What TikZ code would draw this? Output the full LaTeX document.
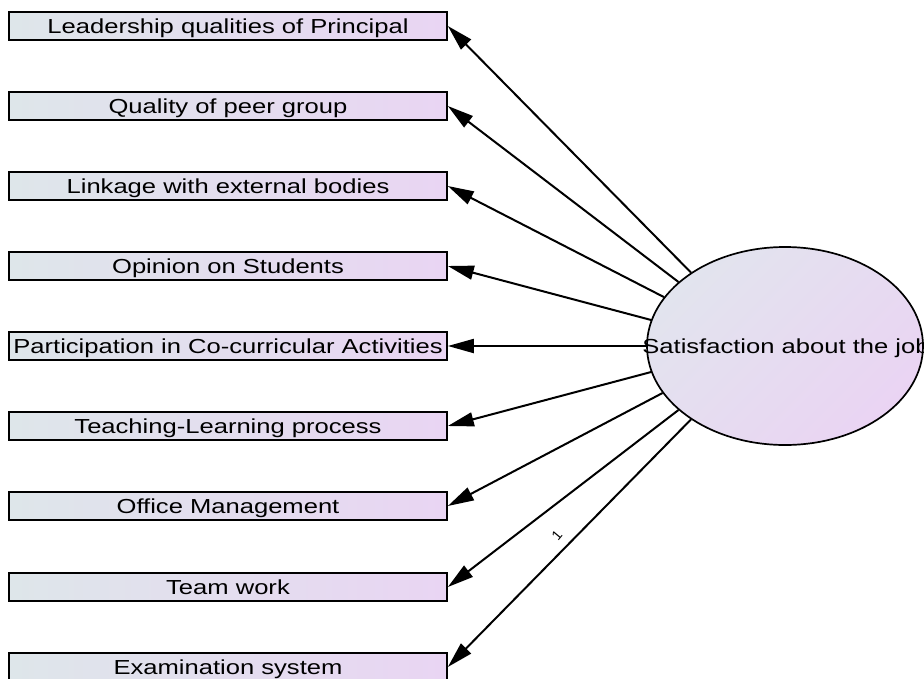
\documentclass[tikz,border=0pt]{standalone}
\usepackage{graphicx}
\usepackage{fontspec}
\setmainfont{Liberation Sans}
\usetikzlibrary{arrows.meta,shapes.geometric}

\definecolor{boxL}{RGB}{222,230,234}
\definecolor{boxR}{RGB}{233,213,243}
\definecolor{ellUL}{RGB}{226,228,238}
\definecolor{ellLR}{RGB}{234,212,243}

% labels are set a little wider than the font's natural width
\newcommand{\stretchtxt}[1]{\scalebox{1.26}[1]{#1}}

\begin{document}
\begin{tikzpicture}[x=1pt,y=-1pt,
  varbox/.style={rectangle, draw=black, line width=1.7pt,
    minimum width=438pt, minimum height=28pt, inner sep=0pt,
    text height=14.5pt, text depth=0pt,
    left color=boxL, right color=boxR, text=black,
    font=\fontsize{20.3}{22}\selectfont},
  regpath/.style={line width=2pt, draw=black,
    -{Triangle[length=26pt,width=14pt]}}
]
\useasboundingbox (0,0) rectangle (924,678);
\clip (0,0) rectangle (924,678);

% observed variables
\node[varbox] (b1) at (228,26)  {\stretchtxt{Leadership qualities of Principal}};
\node[varbox] (b2) at (228,106) {\stretchtxt{Quality of peer group}};
\node[varbox] (b3) at (228,186) {\stretchtxt{Linkage with external bodies}};
\node[varbox] (b4) at (228,266) {\stretchtxt{Opinion on Students}};
\node[varbox] (b5) at (228,346) {\stretchtxt{Participation in Co-curricular Activities}};
\node[varbox] (b6) at (228,426) {\stretchtxt{Teaching-Learning process}};
\node[varbox] (b7) at (228,506) {\stretchtxt{Office Management}};
\node[varbox] (b8) at (228,587) {\stretchtxt{Team work}};
\node[varbox] (b9) at (228,667) {\stretchtxt{Examination system}};

% latent variable
\node[ellipse, draw=black, line width=1.7pt, minimum width=276pt,
      minimum height=198pt, inner sep=0pt,
      top color=ellUL, bottom color=ellLR, shading angle=45] (sat) at (785,346) {};
\node[font=\fontsize{20.3}{22}\selectfont, text=black, inner sep=0pt,
      text height=14.5pt, text depth=0pt] (satlbl) at (786,346)
      {\stretchtxt{Satisfaction about the job}};

% regression paths
\draw[regpath] (sat.142)   -- (b1.east);
\draw[regpath] (sat.149)   -- (b2.east);
\draw[regpath] (sat.158.5) -- (b3.east);
\draw[regpath] (sat.169)   -- (b4.east);
\draw[regpath] (sat.180)   -- (b5.east);
\draw[regpath] (sat.191)   -- (b6.east);
\draw[regpath] (sat.201.5) -- (b7.east);
\draw[regpath] (sat.211)   -- (b8.east);
\draw[regpath] (sat.218)   -- (b9.east);

% fixed loading
\node[rotate=50, font=\fontsize{14}{14}\selectfont, inner sep=0pt] (w1) at (557,535) {1};
\end{tikzpicture}
\end{document}
